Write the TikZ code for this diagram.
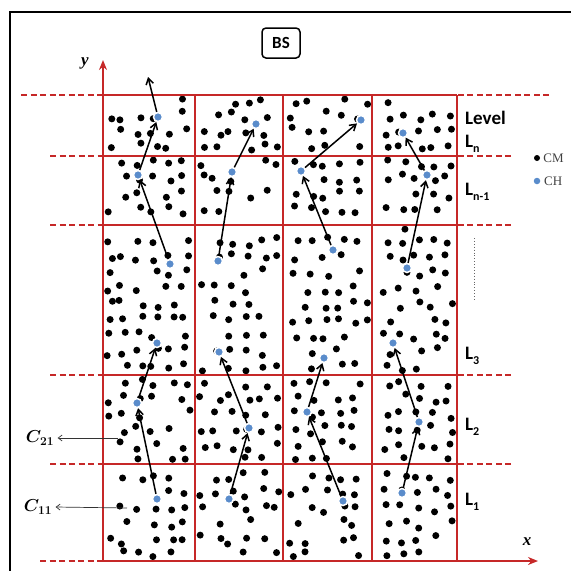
\documentclass[tikz,border=0pt]{standalone}
\usepackage{fontspec}
\setmainfont{Liberation Serif}
\newfontfamily\lvlfont{Carlito}
\usetikzlibrary{arrows.meta,positioning,calc}
\definecolor{GridRed}{HTML}{C62828}
\definecolor{HeadBlue}{HTML}{5A8CCB}
\newcommand{\Lsub}[1]{L\raisebox{-0.28em}{\fontsize{12}{12}\selectfont#1}}
\tikzset{
  gridline/.style={GridRed,line width=2pt},
  gridext/.style={GridRed,line width=2pt,dash pattern=on 6pt off 3.5pt},
  member/.style={circle,fill=black,inner sep=0pt,minimum size=6pt},
  head/.style={circle,fill=HeadBlue,draw=white,line width=1.5pt,inner sep=0pt,minimum size=9pt},
  hop/.style={-{Straight Barb[length=6pt,width=7.5pt]},line width=1.5pt},
  pointer/.style={-{Straight Barb[length=4pt,width=6pt]},line width=0.7pt,black!80},
  lvl/.style={font=\lvlfont\bfseries\fontsize{19}{19}\selectfont,anchor=base west,inner sep=0pt},
}

\begin{document}
\begin{tikzpicture}[x=1pt,y=-1pt]
  \useasboundingbox (0,0) rectangle (571,571);
  \draw[line width=2.2pt] (10,572) -- (10,12) -- (572,12);

  \pgfmathsetseed{41}
  \foreach \i in {0,...,22}{
    \foreach \j in {0,...,29}{
      \pgfmathsetmacro{\px}{108+15.5*\i+4.5*rand}
      \pgfmathsetmacro{\py}{100+15.7*\j+4.5*rand}
      \pgfmathsetmacro{\gap}{min(abs(\px-103),abs(\px-195),abs(\px-283),abs(\px-372),abs(\px-457),abs(\py-95),abs(\py-156),abs(\py-225),abs(\py-375),abs(\py-464),abs(\py-561))}
      \pgfmathsetmacro{\luck}{rnd}
      \pgfmathtruncatemacro{\keep}{and(\luck<0.86,\gap>4) ? 1 : 0}
      \ifnum\keep=1 \fill (\px,\py) circle (3.5pt); \fi
    }
  }

  \foreach \yy in {95,156,225,375,464} \draw[gridline] (103,\yy) -- (457,\yy);
  \foreach \xx in {195,283,372,457} \draw[gridline] (\xx,95) -- (\xx,561);
  \draw[gridext] (21,95) -- (103,95);
  \draw[gridext] (549,95) -- (457,95);
  \foreach \yy in {156,225,375,464}{
    \draw[gridext] (50,\yy) -- (103,\yy);
    \draw[gridext] (511,\yy) -- (457,\yy);
  }
  \draw[gridext] (40,561) -- (103,561);
  \coordinate (origin) at (103,561);
  \coordinate (ytip) at (103,60);
  \coordinate (xtip) at (538,561);
  \draw[gridline,-{Stealth[length=10pt,width=8pt]}] (origin) -- (ytip);
  \draw[gridline,-{Stealth[length=10pt,width=8pt]}] (origin) -- (xtip);
  \node[font=\bfseries\itshape\fontsize{17}{17}\selectfont] (ylab) at (85,63) {y};
  \node[font=\bfseries\itshape\fontsize{17}{17}\selectfont] (xlab) at (527,542) {x};

  \node[draw,rounded corners=4pt,line width=1.5pt,minimum width=38pt,minimum height=30pt,inner sep=0pt,
    font=\lvlfont\bfseries\fontsize{17}{17}\selectfont] (bs) at (281,43) {BS};

  \node[member] (cmdot) at (537,158) {};
  \node[right=3pt of cmdot,inner sep=0pt,text=black!75,font=\fontsize{13}{13}\selectfont] (cmtext) {CM};
  \node[head,draw=none,minimum size=6.5pt] (chdot) at (537,181) {};
  \node[right=3pt of chdot,inner sep=0pt,text=black!75,font=\fontsize{13}{13}\selectfont] (chtext) {CH};

  \node[lvl] (lvltitle) at (465,124) {Level};
  \node[lvl] (ln) at (465,147) {\Lsub{n}};
  \node[lvl] (lnm) at (465,195) {\Lsub{n-1}};
  \node[lvl] (l3) at (465,359) {\Lsub{3}};
  \node[lvl] (l2) at (465,430) {\Lsub{2}};
  \node[lvl] (l1) at (465,505) {\Lsub{1}};
  \draw[black!60,dotted,line width=0.9pt] (474,238) -- (474,300);

  \node[font=\boldmath\fontsize{18}{18}\selectfont] (c21) at (40,438) {$C_{21}$};
  \node[font=\boldmath\fontsize{18}{18}\selectfont] (c11) at (38,507) {$C_{11}$};
  \coordinate (c21tail) at (118,438);
  \coordinate (c11tail) at (127,508);
  \draw[pointer] (c21tail) -- (c21.east);
  \draw[pointer] (c11tail) -- (c11.east);

  \foreach \name/\pos in {a1/{157,499},a2/{137,403},a3/{157,343},a4/{170,264},a5/{138,175},a6/{158,117},
      b1/{229,499},b2/{249,428},b3/{219,352},b4/{218,261},b5/{232,172},b6/{256,124},
      c1/{343,501},c2/{307,412},c3/{324,358},c4/{333,250},c5/{301,171},c6/{361,120},
      d1/{402,493},d2/{419,422},d3/{393,343},d4/{407,268},d5/{427,175},d6/{403,133}}
    \node[head] (\name) at (\pos) {};
  \foreach \col in {a,b,c,d}
    \foreach \s/\t in {1/2,2/3,4/5,5/6}
      \draw[hop] (\col\s) -- (\col\t);
  \coordinate (atop) at (148,77);
  \draw[hop] (a6) -- (atop);
\end{tikzpicture}
\end{document}
